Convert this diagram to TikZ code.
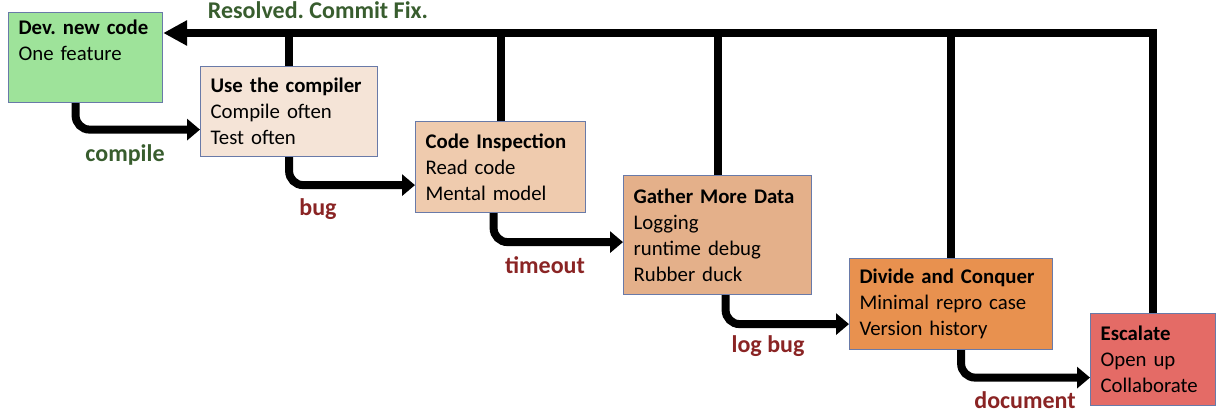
\documentclass[tikz,border=0pt]{standalone}
\usepackage{fontspec}
\setmainfont{Carlito}
\usetikzlibrary{arrows.meta}
\frenchspacing
\definecolor{bordc}{RGB}{105,122,168}
\definecolor{c1}{RGB}{158,227,154}
\definecolor{c2}{RGB}{245,228,215}
\definecolor{c3}{RGB}{239,203,174}
\definecolor{c4}{RGB}{228,176,138}
\definecolor{c5}{RGB}{232,145,79}
\definecolor{c6}{RGB}{228,107,102}
\definecolor{lgreen}{RGB}{56,93,46}
\definecolor{lred}{RGB}{138,36,36}
\tikzset{
  box/.style={draw=bordc, line width=1.2pt, anchor=north west, align=left,
    inner xsep=10pt, inner ysep=0pt, font=\fontsize{20.8}{26}\selectfont},
  flow/.style={line width=8pt, -{Triangle[length=13pt,width=21pt]}, rounded corners=14pt},
  ret/.style={line width=8pt, -{Triangle[length=24pt,width=24pt]}},
  drop/.style={line width=8pt},
  glab/.style={font=\fontsize{24}{26}\selectfont\bfseries, text=lgreen},
  rlab/.style={font=\fontsize{24}{26}\selectfont\bfseries, text=lred},
}
\begin{document}
\begin{tikzpicture}[x=1pt,y=-1pt]
\useasboundingbox (0,0) rectangle (1222,412);
\node[box, fill=c1, text width=134pt, minimum height=90pt] (b1) at (8,12)
  {\textbf{Dev. new code}\\One feature\\\strut};
\node[box, fill=c2, text width=157pt, minimum height=90pt] (b2) at (200,66)
  {\textbf{Use the compiler}\\Compile often\\Test often};
\node[box, fill=c3, text width=150pt, minimum height=91pt] (b3) at (415,121)
  {\textbf{Code Inspection}\\Read code\\Mental model};
\node[box, fill=c4, text width=168pt, minimum height=119pt] (b4) at (623,175)
  {\textbf{Gather More Data}\\Logging\\runtime debug\\Rubber duck};
\node[box, fill=c5, text width=183pt, minimum height=91pt] (b5) at (849,258)
  {\textbf{Divide and Conquer}\\Minimal repro case\\Version history};
\node[box, fill=c6, text width=105pt, minimum height=92pt] (b6) at (1090,313)
  {\textbf{Escalate}\\Open up\\Collaborate};
% return line
\coordinate (top) at ([yshift=-21pt]b1.north east);
\draw[ret] (b6.north) |- (top);
\foreach \b in {b2,b3,b4,b5}
  \draw[drop] (\b.north) -- (\b.north |- top);
% flow arrows
\draw[flow] ([xshift=-10pt]b1.south) |- ([yshift=-18pt]b2.west);
\draw[flow] (b2.south) |- ([yshift=-18pt]b3.west);
\draw[flow] ([xshift=-7pt]b3.south) |- ([yshift=-7pt]b4.west);
\draw[flow] ([xshift=8pt]b4.south) |- ([yshift=-20pt]b5.west);
\draw[flow] ([xshift=10pt]b5.south) |- ([yshift=-18pt]b6.west);
% labels
\node[glab] (lres) at (318,10) {Resolved. Commit Fix.};
\node[glab] (lcomp) at (125,155) {compile};
\node[rlab] (lbug) at (318,209) {bug};
\node[rlab] (ltime) at (545,265) {timeout};
\node[rlab] (llog) at (768,346) {log bug};
\node[rlab] (ldoc) at (1025,400) {document};
\end{tikzpicture}
\end{document}
